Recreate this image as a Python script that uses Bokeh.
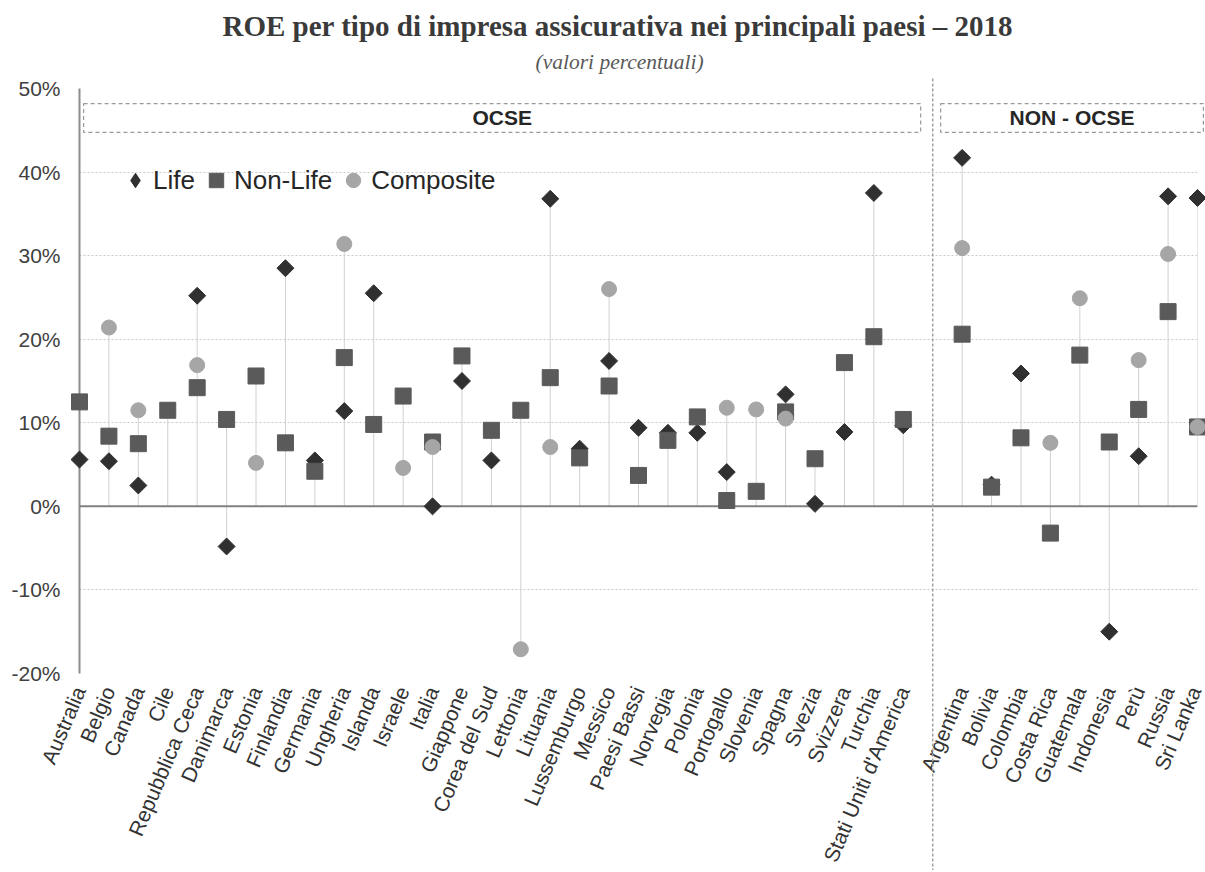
import math
from bokeh.plotting import figure
from bokeh.models import (Range1d, FixedTicker, PrintfTickFormatter, Span, Legend,
                          LegendItem, Title)
from bokeh.core.properties import value
from bokeh.embed import file_html
from bokeh.resources import INLINE

nan = float("nan")

# ---- data (ROE %, 2018) ----
ocse = ["Australia", "Belgio", "Canada", "Cile", "Repubblica Ceca", "Danimarca",
        "Estonia", "Finlandia", "Germania", "Ungheria", "Islanda", "Israele",
        "Italia", "Giappone", "Corea del Sud", "Lettonia", "Lituania",
        "Lussemburgo", "Messico", "Paesi Bassi", "Norvegia", "Polonia",
        "Portogallo", "Slovenia", "Spagna", "Svezia", "Svizzera", "Turchia",
        "Stati Uniti d'America"]
non_ocse = ["Argentina", "Bolivia", "Colombia", "Costa Rica", "Guatemala",
            "Indonesia", "Perù", "Russia", "Sri Lanka"]

life_ocse = [5.6, 5.4, 2.5, nan, 25.2, -4.8, nan, 28.5, 5.5, 11.4, 25.5, nan,
             0.0, 15.0, 5.5, nan, 36.8, 6.9, 17.4, 9.4, 8.8, 8.8, 4.1, nan,
             13.4, 0.3, 8.9, 37.5, 9.7]
nonlife_ocse = [12.5, 8.4, 7.5, 11.5, 14.2, 10.4, 15.6, 7.6, 4.2, 17.8, 9.8, 13.2,
                7.7, 18.0, 9.1, 11.5, 15.4, 5.8, 14.4, 3.7, 7.9, 10.7, 0.7, 1.8,
                11.3, 5.7, 17.2, 20.3, 10.4]
comp_ocse = [nan, 21.4, 11.5, nan, 16.9, nan, 5.2, nan, nan, 31.4, nan, 4.6,
             7.1, nan, nan, -17.1, 7.1, nan, 26.0, nan, nan, nan, 11.8, 11.6,
             10.5, nan, nan, nan, nan]

life_non = [41.7, 2.6, 15.9, nan, nan, -15.0, 6.0, 37.1, 36.9]
nonlife_non = [20.6, 2.3, 8.2, -3.2, 18.1, 7.7, 11.6, 23.3, 9.5]
comp_non = [30.9, nan, nan, 7.6, 24.9, nan, 17.5, 30.2, 9.5]

y_ticks = [-20, -10, 0, 10, 20, 30, 40, 50]

# ---- derived ----
names = ocse + non_ocse
sep = len(ocse)
xs = list(range(len(ocse))) + [sep + 1 + j for j in range(len(non_ocse))]
life = life_ocse + life_non
nonlife = nonlife_ocse + nonlife_non
comp = comp_ocse + comp_non


def _vals(i):
    return [v for v in (0.0, life[i], nonlife[i], comp[i]) if v == v]


lo = [min(_vals(i)) for i in range(len(names))]
hi = [max(_vals(i)) for i in range(len(names))]

C_LIFE, C_NON, C_COMP = "#303030", "#5a5a5a", "#a6a6a6"

p = figure(width=1205, height=872, x_range=Range1d(0, xs[-1]),
           y_range=Range1d(y_ticks[0], y_ticks[-1]),
           output_backend="svg", toolbar_location=None,
           min_border_left=79, min_border_right=8, min_border_top=88,
           min_border_bottom=196)
p.outline_line_color = None
p.background_fill_color = "white"
p.border_fill_color = "white"

# titles (p.title is outermost, added titles sit closer to the frame)
p.title.text = "ROE per tipo di impresa assicurativa nei principali paesi \u2013 2018"
p.title.text_font = "Liberation Serif"
p.title.text_font_style = "bold"
p.title.text_font_size = "29px"
p.title.text_color = "#3a3a3a"
p.title.align = "left"
p.title.offset = 143
p.title.standoff = -18
sub = Title(text="(valori percentuali)", text_font="Liberation Serif",
            text_font_style="italic", text_font_size="21.5px",
            text_color="#595959", align="left", offset=456, standoff=30)
p.add_layout(sub, "above")

# y axis
p.yaxis.ticker = FixedTicker(ticks=y_ticks)
p.yaxis.formatter = PrintfTickFormatter(format="%d%%")
p.yaxis.axis_line_color = "#8c8c8c"
p.yaxis.axis_line_width = 2
p.yaxis.major_tick_line_color = None
p.yaxis.minor_tick_line_color = None
p.yaxis.major_tick_out = 0
p.yaxis.major_tick_in = 0
p.yaxis.major_label_standoff = 19
p.yaxis.major_label_text_font = "Liberation Sans"
p.yaxis.major_label_text_font_size = "21px"
p.yaxis.major_label_text_color = "#404040"

# x axis
p.xaxis.ticker = FixedTicker(ticks=xs)
p.xaxis.major_label_overrides = {x: n for x, n in zip(xs, names)}
p.xaxis.major_label_orientation = math.radians(67)
p.xaxis.axis_line_color = None
p.xaxis.major_tick_line_color = None
p.xaxis.minor_tick_line_color = None
p.xaxis.major_tick_out = 0
p.xaxis.major_tick_in = 0
p.xaxis.major_label_standoff = 14
p.xaxis.major_label_text_font = "Liberation Sans"
p.xaxis.major_label_text_font_size = "21px"
p.xaxis.major_label_text_color = "#333333"

# grid
p.xgrid.grid_line_color = None
p.ygrid.ticker = FixedTicker(ticks=y_ticks)
p.ygrid.grid_line_color = "#c8c8c8"
p.ygrid.grid_line_dash = "2 2"
p.ygrid.grid_line_width = 1

p.add_layout(Span(location=0, dimension="width", line_color="#808080", line_width=2))

# stems
p.segment(x0=xs, y0=lo, x1=xs, y1=hi, line_color="#d0d0d0", line_width=1)

# group boxes and separator
p.quad(left=[0.14, sep + 0.27], right=[sep - 0.41, xs[-1] + 0.2],
       top=[48.2, 48.2], bottom=[44.76, 44.76], fill_color=None,
       line_color="#9a9a9a", line_dash="4 3", line_width=1.2, level="overlay")
p.text(x=[(0.14 + sep - 0.41) / 2, (sep + 0.27 + xs[-1] + 0.2) / 2],
       y=[46.5, 46.5], text=["OCSE", "NON - OCSE"], text_align="center",
       text_baseline="middle", text_font=value("Liberation Sans"),
       text_font_style="bold", text_font_size="21px", text_color="#262626",
       level="overlay")
p.segment(x0=[sep], y0=[51.2], x1=[sep], y1=[-43.5], line_color="#a0a0a0",
          line_dash="3 2", line_width=1.5, level="overlay")

# markers
r_life = p.scatter(xs, life, marker="square", angle=math.pi / 4, size=12,
                   color=C_LIFE, level="overlay")
r_non = p.scatter(xs, nonlife, marker="square", size=16, color=C_NON,
                  level="overlay")
r_comp = p.scatter(xs, comp, marker="circle", size=15, color=C_COMP,
                   level="overlay")
# legend swatch for Life (diamond shape), no visible point in the plot
r_life_key = p.scatter(x=[nan], y=[nan], marker="diamond", color=C_LIFE)

legend = Legend(items=[LegendItem(label="Life", renderers=[r_life_key]),
                       LegendItem(label="Non-Life", renderers=[r_non]),
                       LegendItem(label="Composite", renderers=[r_comp])],
                orientation="horizontal", location=(38, 475),
                glyph_width=36, glyph_height=36, label_text_font="Liberation Sans",
                label_text_font_size="26px", label_text_color="#262626",
                border_line_color=None, background_fill_alpha=0, padding=0,
                margin=0, spacing=3, label_standoff=0)
p.add_layout(legend)

open("out.html", "w").write(file_html(p, INLINE))
